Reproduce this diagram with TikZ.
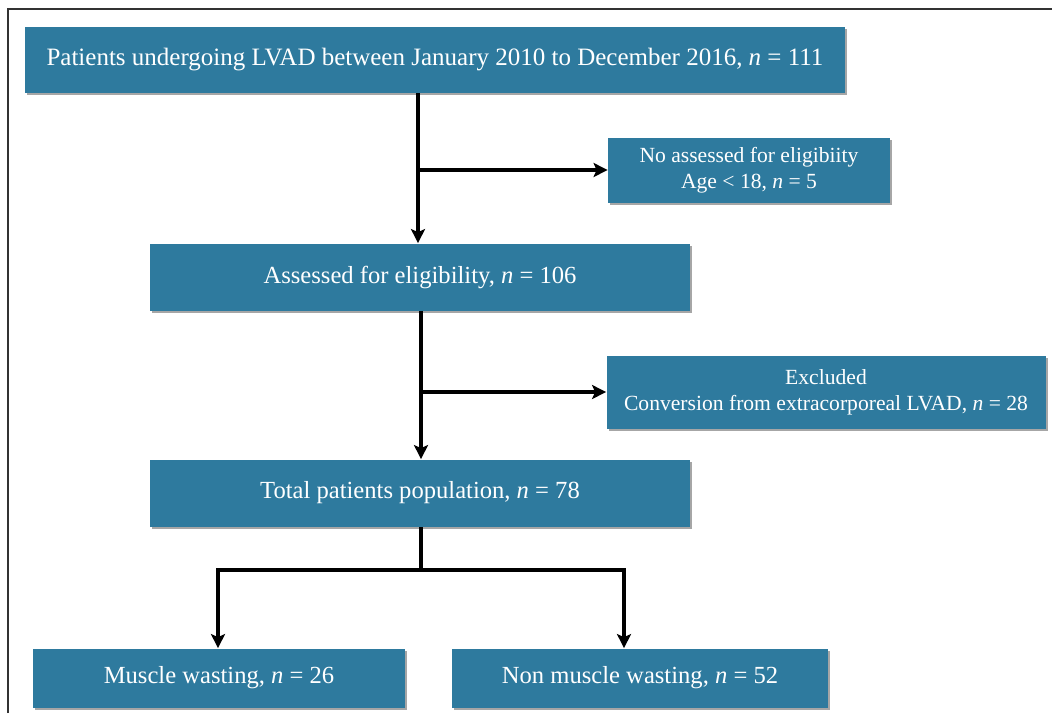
\documentclass[tikz,border=0pt]{standalone}
\usepackage{fontspec}
\setmainfont{Liberation Serif}
\definecolor{boxcolor}{RGB}{46,122,158}
\usetikzlibrary{arrows.meta, positioning, shadows}

\begin{document}
\begin{tikzpicture}[x=0.5pt, y=-0.5pt,
    box/.style={fill=boxcolor, text=white, align=center, inner sep=0pt,
      font=\fontsize{12.3}{14}\selectfont,
      drop shadow={shadow xshift=1.2pt, shadow yshift=-1.2pt, opacity=0.35, fill=black}},
    sidebox/.style={box, font=\fontsize{10.8}{12.8}\selectfont},
    link/.style={line width=1.7pt, -{Stealth[length=7pt, width=7pt, inset=1.5pt]}},
    twolink/.style={link, {Stealth[length=7pt, width=7pt, inset=1.5pt]}-{Stealth[length=7pt, width=7pt, inset=1.5pt]}},
    line/.style={line width=1.7pt}]
    \useasboundingbox (0,0) rectangle (1052,713);
    \draw[gray!40!black, line width=1pt] (8,713) |- (1052,9);

    \node[box, minimum width=410pt, minimum height=33pt, font=\fontsize{12.5}{14}\selectfont] (patients) at (435,60)
      {Patients undergoing LVAD between January 2010 to December 2016, \textit{n} = 111};
    \node[sidebox, minimum width=141pt, minimum height=32.5pt] (notassessed) at (749,170)
      {No assessed for eligibiity\\Age < 18, \textit{n} = 5};
    \node[box, minimum width=270pt, minimum height=33.5pt] (assessed) at (420,277)
      {Assessed for eligibility, \textit{n} = 106};
    \node[sidebox, minimum width=219.5pt, minimum height=36.5pt] (excluded) at (826,392)
      {Excluded\\Conversion from extracorporeal LVAD, \textit{n} = 28};
    \node[box, minimum width=270pt, minimum height=33.5pt] (total) at (420,493)
      {Total patients population, \textit{n} = 78};
    \node[box, minimum width=186pt, minimum height=29.5pt] (wasting) at (219,678)
      {Muscle wasting, \textit{n} = 26};
    \node[box, minimum width=188pt, minimum height=29.5pt] (nonwasting) at (640,678)
      {Non muscle wasting, \textit{n} = 52};

    % branch points
    \coordinate (b1) at (418,170);
    \coordinate (b2) at (421,392);
    \coordinate (split) at (421,570);
    \coordinate (splitL) at (218,570);
    \coordinate (splitR) at (624,570);

    \draw[link] (patients.south -| b1) -- (assessed.north -| b1);
    \draw[link] (b1) -- (notassessed.west);
    \draw[link] (assessed.south -| b2) -- (total.north -| b2);
    \draw[link] (b2) -- (excluded.west);
    \draw[line] (total.south -| split) -- (split);
    \draw[twolink] (wasting.north -| splitL) -- (splitL) -- (splitR) -- (nonwasting.north -| splitR);
\end{tikzpicture}
\end{document}
